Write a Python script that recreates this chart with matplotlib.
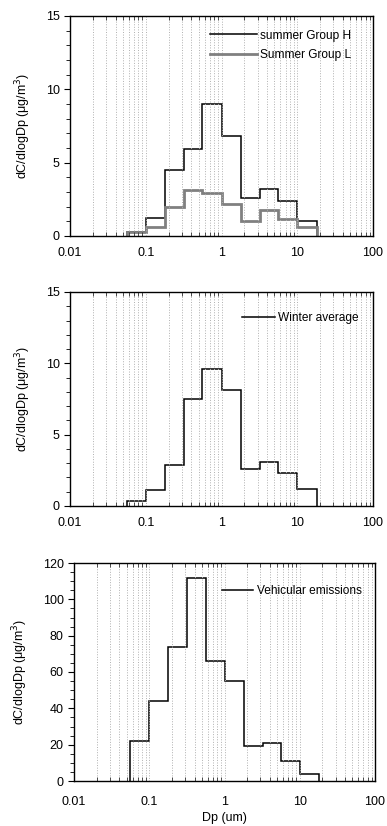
import matplotlib
matplotlib.use('Agg')
import matplotlib.pyplot as plt
from matplotlib.ticker import FuncFormatter, MultipleLocator, LogLocator

plt.rcParams['font.family'] = ['Liberation Sans', 'DejaVu Sans']
plt.rcParams['font.size'] = 9

# 粒径分级边界 (um)
edges = [0.056, 0.1, 0.18, 0.32, 0.56, 1.0, 1.8, 3.2, 5.6, 10, 18]

summer_h = [0.25, 1.2, 4.5, 5.9, 9.0, 6.8, 2.6, 3.2, 2.4, 1.0]
summer_l = [0.25, 0.6, 2.0, 3.15, 2.9, 2.15, 1.0, 1.8, 1.15, 0.6]
winter = [0.35, 1.1, 2.9, 7.5, 9.6, 8.1, 2.6, 3.1, 2.3, 1.2]
vehicle = [22, 44, 74, 112, 66, 55, 19, 21, 11, 4]

ylabel = 'dC/dlogDp (\u03bcg/m$^3$)'


def style_axes(ax, ymax, ymajor, yminor, xpad=8):
    ax.set_xscale('log')
    ax.set_xlim(0.01, 100)
    ax.set_ylim(0, ymax)
    ax.yaxis.set_major_locator(MultipleLocator(ymajor))
    ax.yaxis.set_minor_locator(MultipleLocator(yminor))
    ax.xaxis.set_major_locator(LogLocator(base=10))
    ax.xaxis.set_minor_locator(LogLocator(base=10, subs=range(2, 10)))
    ax.xaxis.set_major_formatter(FuncFormatter(lambda v, p: '%g' % v))
    ax.grid(which='both', axis='x', linestyle=':', color='#b0b0b0', lw=0.7)
    ax.tick_params(axis='x', which='major', length=0, pad=xpad)
    ax.tick_params(axis='x', which='minor', direction='in', length=3,
                   top=True, color='#333333')
    ax.tick_params(axis='y', which='major', direction='out', length=4)
    ax.tick_params(axis='y', which='minor', direction='out', length=3)
    for sp in ax.spines.values():
        sp.set_linewidth(1.0)
    ax.set_ylabel(ylabel, labelpad=9)


fig = plt.figure(figsize=(3.87, 8.26), dpi=100)
W, H = 387, 826

ax1 = fig.add_axes([70 / W, 1 - 236 / H, 303 / W, 220 / H])
ax2 = fig.add_axes([70 / W, 1 - 506 / H, 303 / W, 214 / H])
ax3 = fig.add_axes([74 / W, 1 - 781 / H, 301 / W, 218 / H])

ax1.stairs(summer_h, edges, color='black', lw=1.1, label='summer Group H')
ax1.stairs(summer_l, edges, color='#808080', lw=2.0, label='Summer Group L')
style_axes(ax1, 15, 5, 1)
ax1.legend(loc='upper right', bbox_to_anchor=(0.945, 0.96), frameon=False,
           fontsize=8.6, handlelength=3.9, handletextpad=0.3,
           borderaxespad=0, labelspacing=0.6)

ax2.stairs(winter, edges, color='black', lw=1.1, label='Winter average')
style_axes(ax2, 15, 5, 1)
ax2.legend(loc='upper right', bbox_to_anchor=(0.967, 0.93), frameon=False,
           fontsize=8.6, handlelength=2.8, handletextpad=0.2,
           borderaxespad=0)

ax3.stairs(vehicle, edges, color='black', lw=1.1, label='Vehicular emissions')
style_axes(ax3, 120, 20, 5, xpad=11)
ax3.set_xlabel('Dp (um)', labelpad=3)
ax3.legend(loc='upper right', bbox_to_anchor=(0.973, 0.922), frameon=False,
           fontsize=8.6, handlelength=2.6, handletextpad=0.35,
           borderaxespad=0)

fig.savefig('out.png', dpi=100)
